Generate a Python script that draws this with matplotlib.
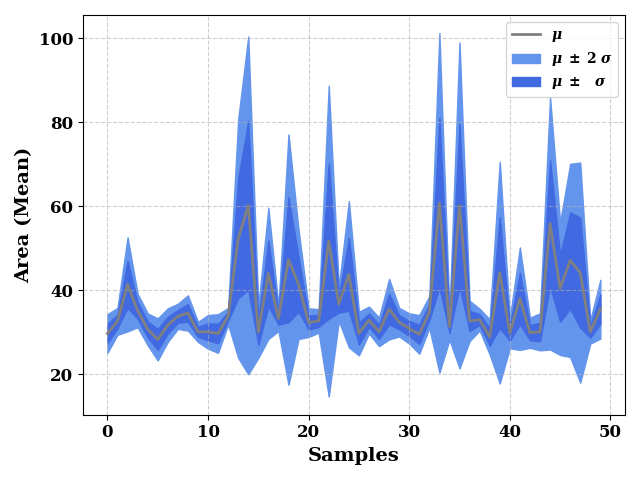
import numpy as np
import matplotlib
matplotlib.use('Agg')
from matplotlib import pyplot as plt

# per-sample mean and std of the area
samples = np.arange(50)
mu = [29.7, 32.6, 41.4, 35.2, 30.7, 28.3, 31.7, 33.8, 34.6, 30.1,
      30.1, 29.7, 33.8, 52.3, 60.2, 30.1, 44.0, 33.3, 47.3, 41.4,
      32.3, 32.7, 51.7, 36.7, 43.8, 29.7, 32.9, 30.1, 35.5, 32.4,
      30.9, 29.5, 34.8, 60.8, 31.4, 60.2, 32.7, 33.0, 28.9, 44.2,
      29.8, 38.0, 29.9, 30.1, 55.9, 40.4, 47.1, 44.2, 30.1, 35.5]
sigma = [2.3, 1.6, 5.6, 2.0, 1.9, 2.5, 2.0, 1.5, 2.1, 1.2,
         2.0, 2.3, 1.0, 14.2, 20.1, 3.1, 7.8, 1.5, 14.9, 6.5,
         1.7, 1.4, 18.5, 2.0, 8.7, 2.6, 1.6, 1.7, 3.6, 1.7,
         1.8, 2.3, 1.9, 20.2, 1.6, 19.4, 2.4, 1.3, 2.1, 13.2,
         1.8, 6.1, 1.8, 2.2, 15.0, 7.9, 11.5, 13.1, 1.4, 3.5]

mu = np.array(mu)
sigma = np.array(sigma)

plt.rcParams['font.family'] = 'DejaVu Serif'
plt.rcParams['font.weight'] = 'bold'
plt.rcParams['mathtext.fontset'] = 'dejavuserif'

fig = plt.figure(figsize=(6.4, 4.8), dpi=100)
plt.plot(samples, mu, color='gray', lw=2, label=r'$\boldsymbol{\mu}$', zorder=3)
plt.fill_between(samples, mu - 2 * sigma, mu + 2 * sigma, color='cornflowerblue',
                 label=r'$\boldsymbol{\mu}\;\pm\;\mathbf{2}\;\boldsymbol{\sigma}$')
plt.fill_between(samples, mu - sigma, mu + sigma, color='royalblue',
                 label=r'$\boldsymbol{\mu}\;\pm\;\;\;\boldsymbol{\sigma}$')
plt.grid(True, linestyle='--', alpha=0.6)
plt.xlabel('Samples', fontsize=14, fontweight='bold')
plt.ylabel('Area (Mean)', fontsize=14, fontweight='bold')
plt.xticks(fontsize=12, fontweight='bold')
plt.yticks(fontsize=12, fontweight='bold')
plt.legend(loc='upper right', prop={'weight': 'bold', 'size': 10})
plt.tight_layout()
plt.savefig('out.png', dpi=100)
